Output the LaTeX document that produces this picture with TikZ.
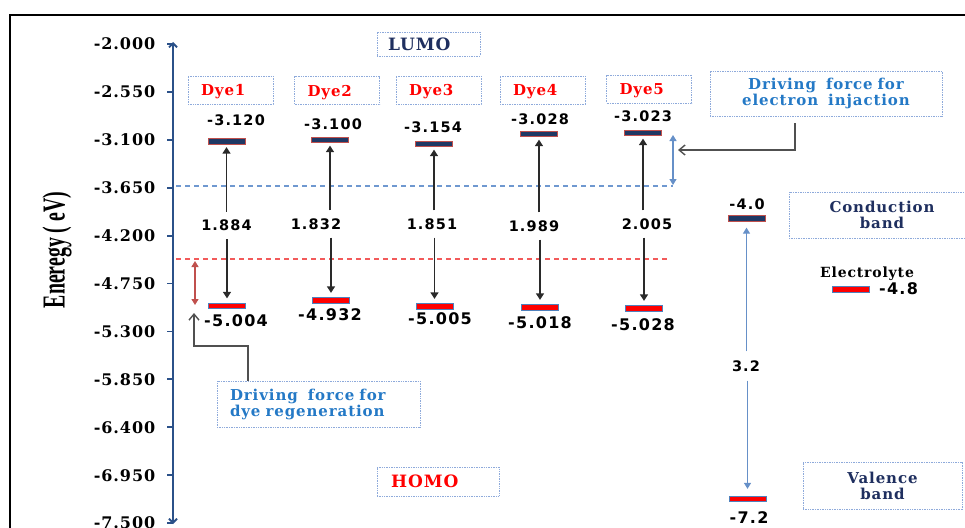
\documentclass[tikz,border=0pt]{standalone}
\usepackage{fontspec}
\usepackage{graphicx}
\usetikzlibrary{arrows.meta}
\newfontfamily\serf[LetterSpace=6]{DejaVu Serif}
\newfontfamily\numf[LetterSpace=8]{DejaVu Sans}
\newfontfamily\axf{Liberation Serif}
\definecolor{axisblue}{HTML}{2B5189}
\definecolor{lumofill}{HTML}{1F3864}
\definecolor{barred}{HTML}{C0504D}
\definecolor{homofill}{HTML}{FF0000}
\definecolor{barblue}{HTML}{4F81BD}
\definecolor{boxline}{HTML}{8EAADB}
\definecolor{navytext}{HTML}{1F2F5F}
\definecolor{drivblue}{HTML}{2479C6}
\definecolor{dashblue}{HTML}{6F98D0}
\definecolor{dashred}{HTML}{F25A5A}
\definecolor{arrblue}{HTML}{6690C8}
\definecolor{arrred}{HTML}{C0504D}
\definecolor{arrgray}{HTML}{2A2A2A}
\definecolor{elbgray}{HTML}{505050}
\tikzset{
  lumobar/.style={draw=barred, fill=lumofill, line width=0.8pt, minimum width=37pt, minimum height=5.5pt, inner sep=0pt},
  homobar/.style={draw=barblue, fill=homofill, line width=0.8pt, minimum width=37pt, minimum height=5.5pt, inner sep=0pt},
  dotbox/.style={draw=boxline, line width=0.8pt, dash pattern=on 1pt off 0.7pt, fill=white},
  dyelabel/.style={dotbox, text=red, font=\serf\bfseries\fontsize{15}{15}\selectfont, text width=59pt, align=left, inner xsep=13pt, inner ysep=0pt, minimum height=28pt, text depth=0pt},
  ticklab/.style={anchor=east, inner sep=1pt, font=\serf\bfseries\fontsize{16}{16}\selectfont, text depth=0pt},
  lumoval/.style={inner sep=1pt, font=\numf\bfseries\fontsize{14.5}{14.5}\selectfont, text depth=0pt},
  homoval/.style={inner sep=1pt, font=\numf\bfseries\fontsize{16}{16}\selectfont, text depth=0pt},
  gapval/.style={inner xsep=1pt, inner ysep=8pt, font=\numf\bfseries\fontsize{14.5}{14.5}\selectfont, text depth=0pt},
  levarrow/.style={draw=arrgray, line width=1.5pt, -{Triangle[width=8pt,length=6.5pt]}},
  bluearr/.style={draw=arrblue, line width=1.3pt, -{Triangle[width=7pt,length=6pt]}},
  dbluearr/.style={draw=arrblue, line width=1.3pt, {Triangle[width=7pt,length=6pt]}-{Triangle[width=7pt,length=6pt]}},
  dredarr/.style={draw=arrred, line width=1.3pt, {Triangle[width=7pt,length=6pt]}-{Triangle[width=7pt,length=6pt]}},
  elbow/.style={draw=elbgray, line width=1.4pt, -{Straight Barb[width=10pt,length=6pt]}},
  drivtext/.style={dotbox, text=drivblue, font=\serf\bfseries\fontsize{15}{16}\selectfont, inner ysep=0pt},
  bandtext/.style={dotbox, text=navytext, font=\serf\bfseries\fontsize{15}{16}\selectfont, align=center, inner sep=0pt},
}
\begin{document}
\begin{tikzpicture}[x=1pt,y=-1pt]
\useasboundingbox (0,0) rectangle (965,527);
% frame
\coordinate (fr1) at (10,535);
\coordinate (fr2) at (10,15);
\coordinate (fr3) at (975,15);
\draw[line width=1.8pt] (fr1) -- (fr2) -- (fr3);

% axis
\coordinate (axtop) at (173,42);
\coordinate (axbot) at (173,524);
\draw[axisblue, line width=1.8pt, {Straight Barb[width=8pt,length=4pt]}-{Straight Barb[width=8pt,length=4pt]}] (axbot) -- (axtop);
\foreach \v [count=\i from 0] in {-2.000,-2.550,-3.100,-3.650,-4.200,-4.750,-5.300,-5.850,-6.400,-6.950,-7.500}{
  \coordinate (tk\i) at (167,44+\i*47.9);
  \draw[axisblue, line width=1.8pt] (tk\i) -- ++(6,0);
  \node[ticklab] (tl\i) at (156.5,44+\i*47.9) {\v};
}
\node[rotate=90, inner sep=0pt, font=\axf\bfseries\fontsize{32}{32}\selectfont] (ylab) at (57,250) {\scalebox{0.62}[1]{Eneregy ( eV)}};

% dashed reference lines
\coordinate (bl1) at (176,186);
\coordinate (bl2) at (673,186);
\coordinate (rl1) at (176,259);
\coordinate (rl2) at (667,259);
\draw[dashblue, line width=1.1pt, dash pattern=on 5pt off 4pt] (bl1) -- (bl2);
\draw[dashred, line width=1.1pt, dash pattern=on 5pt off 4pt] (rl1) -- (rl2);

% LUMO / HOMO boxes
\node[dotbox, text=navytext, font=\serf\bfseries\fontsize{17}{17}\selectfont, text width=81pt, align=left, inner xsep=11pt, inner ysep=0pt, minimum height=24pt, text depth=0pt] (lumo) at (428.5,44) {LUMO};
\node[dotbox, text=red, font=\serf\bfseries\fontsize{17}{17}\selectfont, text width=94pt, align=left, inner xsep=14pt, inner ysep=0pt, minimum height=29pt, text depth=0pt] (homo) at (438,481.5) {HOMO};

% dye labels
\node[dyelabel] (d1) at (230.5,90) {Dye1};
\node[dyelabel] (d2) at (337,90.5) {Dye2};
\node[dyelabel] (d3) at (438.5,90) {Dye3};
\node[dyelabel] (d4) at (542.5,90) {Dye4};
\node[dyelabel] (d5) at (649,89) {Dye5};

% LUMO values and bars
\node[lumoval] (lv1) at (236,120) {-3.120};
\node[lumoval] (lv2) at (333,124) {-3.100};
\node[lumoval] (lv3) at (433,127) {-3.154};
\node[lumoval] (lv4) at (540,119) {-3.028};
\node[lumoval] (lv5) at (643,116) {-3.023};
\node[lumobar] (L1) at (226.5,141.5) {};
\node[lumobar] (L2) at (330,140) {};
\node[lumobar] (L3) at (434,144) {};
\node[lumobar] (L4) at (539,134) {};
\node[lumobar] (L5) at (643,133) {};

% HOMO bars and values
\node[homobar] (H1) at (227,306) {};
\node[homobar] (H2) at (331,300.5) {};
\node[homobar] (H3) at (434.5,306.5) {};
\node[homobar] (H4) at (540,307.5) {};
\node[homobar] (H5) at (644,308.5) {};
\node[homoval] (hv1) at (236,320.5) {-5.004};
\node[homoval] (hv2) at (330,315) {-4.932};
\node[homoval] (hv3) at (440,319) {-5.005};
\node[homoval] (hv4) at (540,322.5) {-5.018};
\node[homoval] (hv5) at (643,325) {-5.028};

% gaps
\node[gapval] (g1) at (226.5,225.5) {1.884};
\node[gapval] (g2) at (316,224) {1.832};
\node[gapval] (g3) at (432,224) {1.851};
\node[gapval] (g4) at (534,226) {1.989};
\node[gapval] (g5) at (647,224) {2.005};
\foreach \k in {1,...,5}{
  \draw[levarrow, shorten >=2.5pt] (g\k.north -| L\k.south) -- (L\k.south);
  \draw[levarrow, shorten >=4.5pt] (g\k.south -| H\k.north) -- (H\k.north);
}

% driving force for electron injection
\node[drivtext, align=center, text width=206pt, inner xsep=13pt, minimum height=45pt] (ei) at (826,93.5) {Driving\ \ force for\\electron\ \ injaction};
\coordinate (bd3) at (673,135);
\coordinate (bd4) at (673,185);
\draw[dbluearr] (bd3) -- (bd4);
\coordinate (ea) at (795,123);
\coordinate (eb) at (678,150);
\draw[elbow] (ea) |- (eb);

% driving force for dye regeneration
\node[drivtext, align=left, text width=177pt, inner xsep=13pt, minimum height=46pt] (rg) at (318.5,404) {Driving\ \ force for\\dye regeneration};
\coordinate (rd1) at (195,261);
\coordinate (rd2) at (195,305);
\draw[dredarr] (rd1) -- (rd2);
\coordinate (ra) at (248,381);
\coordinate (rb) at (194,346);
\coordinate (rc) at (194,313);
\draw[elbow] (ra) |- (rb) -- (rc);

% TiO2 bands
\node[lumoval] (cbv) at (747,204) {-4.0};
\node[lumobar] (CB) at (746.5,218.5) {};
\node[homobar] (VB) at (747.5,499) {};
\node[homoval] (vbv) at (749,518) {-7.2};
\node[gapval, inner ysep=9pt] (g6) at (746,366) {3.2};
\draw[bluearr, shorten >=6pt] (g6.north -| CB.south) -- (CB.south);
\draw[bluearr, shorten >=7pt] (g6.south -| VB.north) -- (VB.north);
\node[bandtext, minimum width=186pt, minimum height=46pt] (cb) at (882,215) {Conduction\\band};
\node[bandtext, minimum width=159pt, minimum height=47pt] (vb) at (882.5,485.5) {Valence\\band};

% electrolyte
\node[inner sep=1pt, font=\serf\bfseries\fontsize{14}{14}\selectfont, text depth=0pt] (elt) at (867,272) {Electrolyte};
\node[homobar] (EL) at (851,289.5) {};
\node[homoval] (elv) at (898.5,289) {-4.8};
\end{tikzpicture}
\end{document}
